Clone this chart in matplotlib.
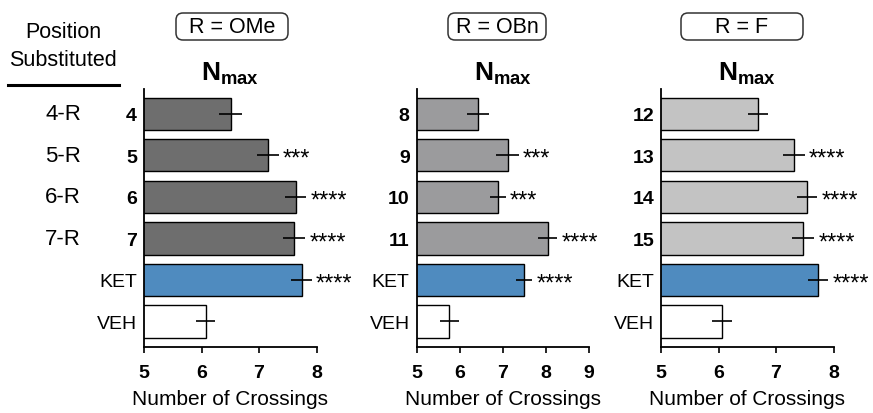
import matplotlib
matplotlib.use("Agg")
import matplotlib.pyplot as plt
from matplotlib.patches import FancyBboxPatch
from matplotlib.lines import Line2D
from matplotlib.transforms import blended_transform_factory

plt.rcParams['font.family'] = ['Liberation Sans', 'DejaVu Sans']
plt.rcParams['mathtext.fontset'] = 'custom'
plt.rcParams['mathtext.rm'] = 'Liberation Sans'
plt.rcParams['mathtext.bf'] = 'Liberation Sans:bold'

# data
labels1 = ['4', '5', '6', '7', 'KET', 'VEH']
means1 = [6.51, 7.15, 7.64, 7.61, 7.74, 6.07]
errs1 = [0.20, 0.19, 0.18, 0.19, 0.18, 0.17]
stars1 = ['', '***', '****', '****', '****', '']

labels2 = ['8', '9', '10', '11', 'KET', 'VEH']
means2 = [6.42, 7.11, 6.89, 8.04, 7.49, 5.76]
errs2 = [0.25, 0.26, 0.18, 0.22, 0.19, 0.23]
stars2 = ['', '***', '***', '****', '****', '']

labels3 = ['12', '13', '14', '15', 'KET', 'VEH']
means3 = [6.69, 7.31, 7.54, 7.47, 7.73, 6.06]
errs3 = [0.17, 0.19, 0.18, 0.19, 0.18, 0.17]
stars3 = ['', '****', '****', '****', '****', '']

titles = ['R = OMe', 'R = OBn', 'R = F']
positions = ['4-R', '5-R', '6-R', '7-R']
xmax = [8, 9, 8]

grays = ['#6e6e6e', '#9b9b9d', '#c3c3c3']
ket_color = '#4f8bbf'

fig = plt.figure(figsize=(8.73, 4.14), dpi=100)

lefts = [0.165, 0.4773, 0.7572]
box_px = [(176, 288), (448, 546), (681, 803)]

panels = [(labels1, means1, errs1, stars1),
          (labels2, means2, errs2, stars2),
          (labels3, means3, errs3, stars3)]

axes = []
for i, (labels, means, errs, stars) in enumerate(panels):
    ax = fig.add_axes([lefts[i], 0.159, 0.1976, 0.624])
    axes.append(ax)
    colors = [grays[i]] * 4 + [ket_color, 'white']
    ypos = list(range(len(labels)))
    ax.barh(ypos, means, height=0.78, left=0, color=colors,
            edgecolor='black', linewidth=1.0, zorder=2)
    ax.errorbar(means, ypos, xerr=errs, fmt='none', ecolor='black',
                elinewidth=1.2, capsize=0, zorder=3)
    for y, m, e, s in zip(ypos, means, errs, stars):
        if s:
            ax.annotate(s, xy=(m + e, y), xytext=(3, -7), textcoords='offset points',
                        ha='left', va='baseline', fontsize=17)
    ax.set_xlim(5, xmax[i])
    ax.set_ylim(5.62, -0.6)
    ax.set_xticks(range(5, xmax[i] + 1))
    ax.set_yticks(ypos)
    ax.set_yticklabels(labels)
    for t in ax.get_yticklabels():
        if t.get_text() not in ('KET', 'VEH'):
            t.set_fontweight('bold')
    for t in ax.get_xticklabels():
        t.set_fontweight('bold')
    ax.tick_params(axis='y', length=0, pad=5, labelsize=14)
    ax.tick_params(axis='x', length=4, width=1.2, pad=8, labelsize=14)
    ax.spines['top'].set_visible(False)
    ax.spines['right'].set_visible(False)
    ax.spines['left'].set_linewidth(1.3)
    ax.spines['bottom'].set_linewidth(1.3)
    ax.set_xlabel('Number of Crossings', fontsize=15, labelpad=6)

    # rounded title box
    x0, x1 = box_px[i]
    box = FancyBboxPatch((x0 / 100, (414 - 41) / 100), (x1 - x0) / 100, 0.27,
                         boxstyle='round,pad=0,rounding_size=0.07',
                         transform=fig.dpi_scale_trans, facecolor='white',
                         edgecolor='#333333', linewidth=1.1)
    fig.patches.append(box)
    fig.text((x0 + x1) / 2 / 873, 1 - 27.5 / 414, titles[i], ha='center', va='center',
             fontsize=15.5)
    ax.text(0.5, 1 - 74 / 414, r'$\mathbf{N}_{\mathbf{max}}$',
            transform=blended_transform_factory(ax.transAxes, fig.transFigure),
            ha='center', va='center', fontsize=19)

# left side labels
fig.text(63 / 873, 1 - 33 / 414, 'Position', ha='center', va='center', fontsize=15.5)
fig.text(63 / 873, 1 - 60 / 414, 'Substituted', ha='center', va='center', fontsize=15.5)
fig.add_artist(Line2D([8 / 873, 119 / 873], [1 - 86 / 414, 1 - 86 / 414],
                      transform=fig.transFigure, color='black', linewidth=2.2))
trans = blended_transform_factory(fig.transFigure, axes[0].transData)
for y, p in enumerate(positions):
    axes[0].text(63 / 873, y, p, transform=trans, ha='center', va='center', fontsize=16)

fig.savefig('out.png', dpi=100)
